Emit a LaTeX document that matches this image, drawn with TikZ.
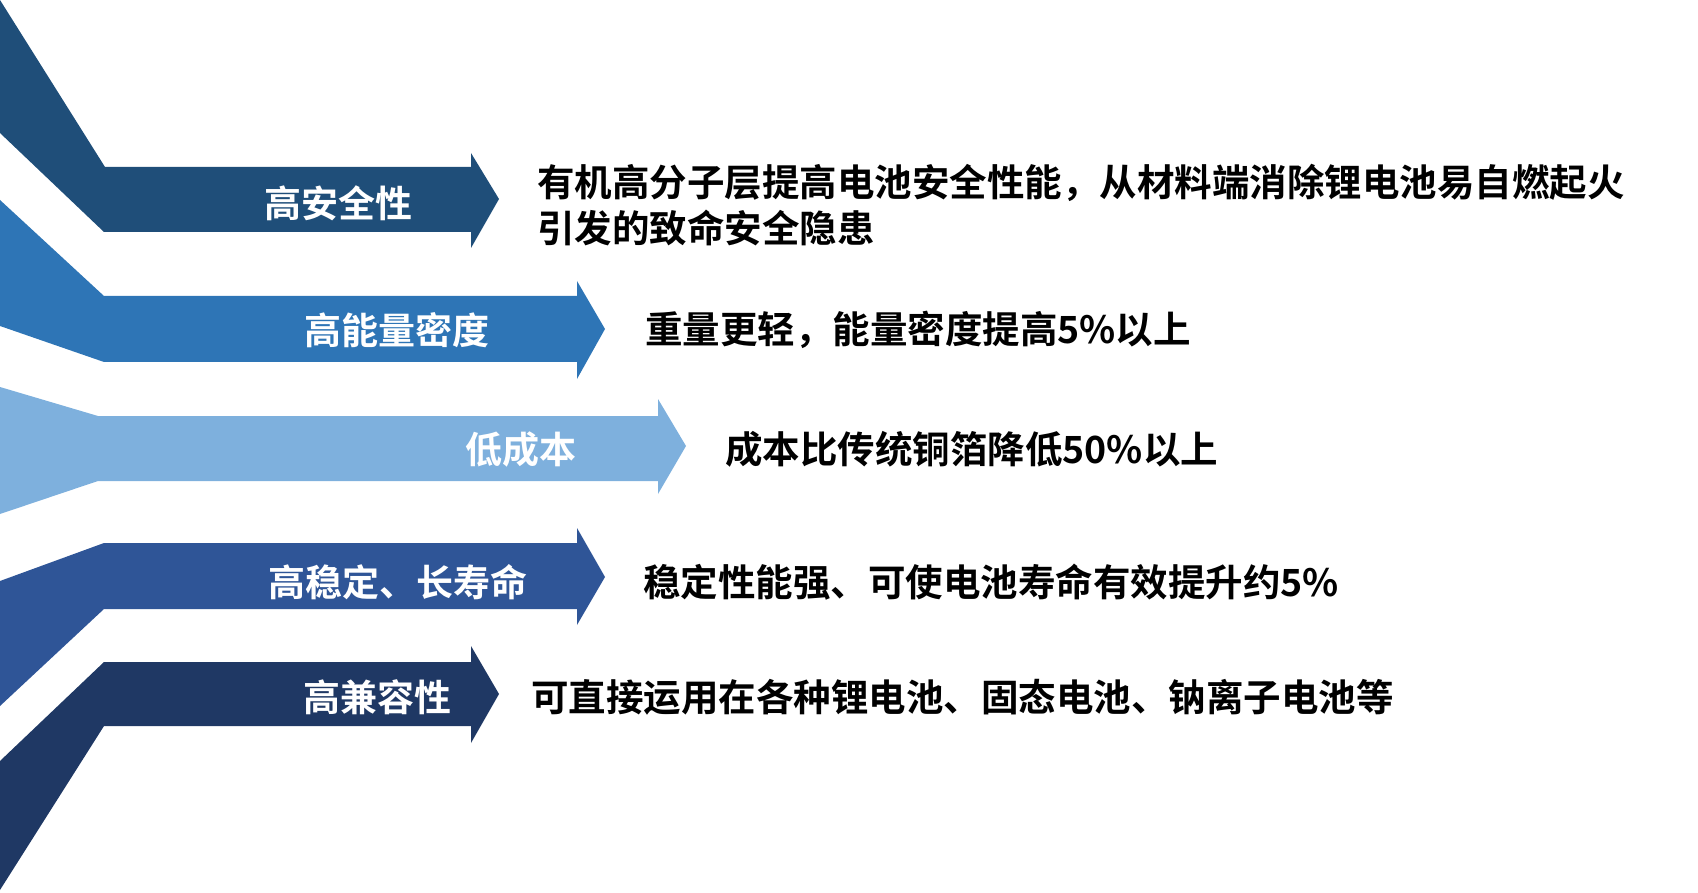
\documentclass[tikz,border=0pt]{standalone}
\usepackage{fontspec}
\newfontfamily\cjk{Noto Sans CJK SC}[BoldFont={Noto Sans CJK SC Bold}]
\begin{document}
\begin{tikzpicture}[x=1pt,y=-1pt,
  lbl/.style={anchor=east,text=white,font=\cjk\bfseries\fontsize{37}{42}\selectfont,inner sep=0pt},
  desc/.style={anchor=west,text=black,font=\cjk\bfseries\fontsize{37.5}{46}\selectfont,inner sep=0pt,align=left}]
\useasboundingbox (0,0) rectangle (1698,893);
\definecolor{cA}{HTML}{1F4E79}
\definecolor{cB}{HTML}{2E75B6}
\definecolor{cC}{HTML}{7EB0DD}
\definecolor{cD}{HTML}{2F5597}
\definecolor{cE}{HTML}{1F3864}
\fill[cA] (0,0)--(105,167)--(471,167)--(471,153)--(499,199)--(471,248)--(471,232)--(104,232)--(0,133)--cycle;
\fill[cB] (0,200)--(104,296)--(577,296)--(577,281)--(605,329)--(577,379)--(577,362)--(104,362)--(0,326)--cycle;
\fill[cC] (0,387)--(98,416)--(658,416)--(658,399)--(686,446)--(658,494)--(658,481)--(98,481)--(0,514)--cycle;
\fill[cD] (0,581)--(104,543)--(577,543)--(577,528)--(605,577)--(577,625)--(577,609)--(104,609)--(0,706)--cycle;
\fill[cE] (0,761)--(104,662)--(471,662)--(471,646)--(499,694)--(471,743)--(471,726)--(104,726)--(0,890)--cycle;
\node[lbl] (l1) at (413,203) {高安全性};
\node[lbl] (l2) at (490,330) {高能量密度};
\node[lbl] (l3) at (577,449) {低成本};
\node[lbl] (l4) at (528,582) {高稳定、长寿命};
\node[lbl] (l5) at (452,697) {高兼容性};
\node[desc] (d1) at (537,205) {有机高分子层提高电池安全性能，从材料端消除锂电池易自燃起火\\引发的致命安全隐患};
\node[desc] (d2) at (645,330) {重量更轻，能量密度提高5\%以上};
\node[desc] (d3) at (725,449) {成本比传统铜箔降低50\%以上};
\node[desc] (d4) at (643,582) {稳定性能强、可使电池寿命有效提升约5\%};
\node[desc] (d5) at (531,697) {可直接运用在各种锂电池、固态电池、钠离子电池等};
\end{tikzpicture}
\end{document}
